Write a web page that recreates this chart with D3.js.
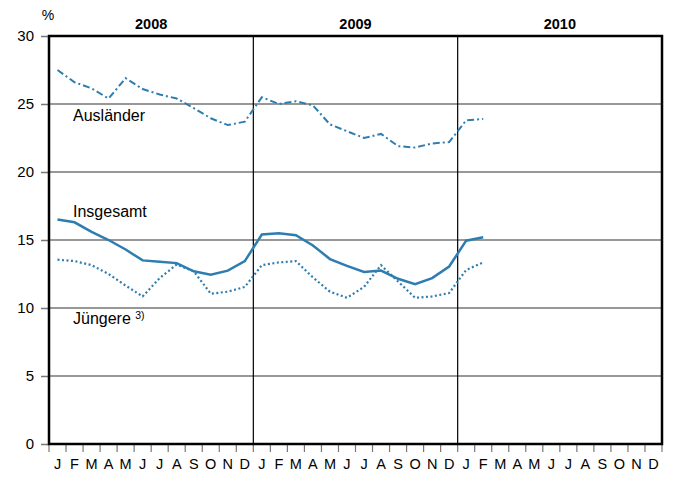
<!DOCTYPE html>
<html>
<head>
<meta charset="utf-8">
<script src="https://cdn.jsdelivr.net/npm/d3@7"></script>
<style>
  body { margin: 0; background: #fff; }
  text { font-family: "Liberation Sans", Arial, sans-serif; fill: #000; }
</style>
</head>
<body>
<svg id="chart" width="676" height="477"></svg>
<script>
var months = ["J","F","M","A","M","J","J","A","S","O","N","D"];
var years = ["2008", "2009", "2010"];
var yTicks = [0, 5, 10, 15, 20, 25, 30];

// Arbeitslosenquote in %, Jan 2008 - Feb 2010
var auslaender = [27.5, 26.6, 26.15, 25.4, 26.9, 26.1, 25.7, 25.4, 24.7, 23.95, 23.45, 23.7,
                  25.5, 25.0, 25.2, 24.9, 23.5, 23.0, 22.5, 22.8, 21.9, 21.8, 22.1, 22.2,
                  23.8, 23.9];
var insgesamt = [16.5, 16.3, 15.6, 15.0, 14.3, 13.5, 13.4, 13.3, 12.7, 12.45, 12.75, 13.45,
                 15.4, 15.5, 15.35, 14.6, 13.6, 13.1, 12.65, 12.75, 12.15, 11.75, 12.2, 13.05,
                 14.95, 15.2];
var juengere = [13.55, 13.45, 13.15, 12.5, 11.65, 10.85, 12.2, 13.2, 12.7, 11.05, 11.2, 11.55,
                13.15, 13.35, 13.45, 12.25, 11.2, 10.75, 11.55, 13.15, 11.95, 10.75, 10.85, 11.1,
                12.8, 13.35];

(function () {
  var svg = d3.select("#chart"),
      left = 49, right = 662, top = 36, bottom = 444,
      blue = "#2e7db0";

  var slots = d3.range(years.length * months.length);
  var x = d3.scaleBand().domain(slots).range([left, right]).padding(0);
  var y = d3.scaleLinear().domain([0, 30]).range([bottom, top]);
  var xc = function (d, i) { return x(i) + x.bandwidth() / 2; };

  // horizontal grid
  svg.append("g").selectAll("line")
    .data(yTicks.filter(function (d) { return d > 0 && d < 30; }))
    .enter().append("line")
      .attr("x1", left).attr("x2", right)
      .attr("y1", function (d) { return y(d); })
      .attr("y2", function (d) { return y(d); })
      .attr("stroke", "#333").attr("stroke-width", 1.2);

  // year dividers
  svg.append("g").selectAll("line")
    .data(years.slice(1))
    .enter().append("line")
      .attr("x1", function (d, i) { return x((i + 1) * 12); })
      .attr("x2", function (d, i) { return x((i + 1) * 12); })
      .attr("y1", top).attr("y2", bottom)
      .attr("stroke", "#000").attr("stroke-width", 1.2);

  // y axis
  var yAxis = svg.append("g")
    .attr("transform", "translate(" + left + ",0)")
    .call(d3.axisLeft(y).tickValues(yTicks).tickSize(8).tickPadding(7));
  yAxis.select(".domain").remove();
  yAxis.selectAll(".tick line").attr("stroke", "#777").attr("stroke-width", 1.5);
  yAxis.selectAll(".tick text")
    .style("font-family", "Liberation Sans, Arial, sans-serif")
    .style("font-size", "15px").attr("fill", "#000");

  // x axis: ticks on month boundaries
  svg.append("g").selectAll("line")
    .data(d3.range(slots.length + 1))
    .enter().append("line")
      .attr("x1", function (d) { return left + d * x.step(); })
      .attr("x2", function (d) { return left + d * x.step(); })
      .attr("y1", bottom).attr("y2", bottom + 8)
      .attr("stroke", "#777").attr("stroke-width", 1.2);

  var xAxis = svg.append("g")
    .attr("transform", "translate(0," + bottom + ")")
    .call(d3.axisBottom(x).tickSize(0).tickPadding(15)
      .tickFormat(function (d) { return months[d % 12]; }));
  xAxis.select(".domain").remove();
  xAxis.selectAll(".tick text")
    .style("font-family", "Liberation Sans, Arial, sans-serif")
    .style("font-size", "14.5px").attr("fill", "#000");

  // frame
  svg.append("rect")
    .attr("x", left).attr("y", top)
    .attr("width", right - left).attr("height", bottom - top)
    .attr("fill", "none").attr("stroke", "#000").attr("stroke-width", 2.5);

  // year labels
  svg.append("g").selectAll("text")
    .data(years)
    .enter().append("text")
      .attr("x", function (d, i) { return x(i * 12) + x.step() * 6; })
      .attr("y", 29)
      .attr("text-anchor", "middle")
      .style("font-size", "14.5px").style("font-weight", "bold")
      .text(function (d) { return d; });

  svg.append("text").attr("x", 48).attr("y", 20)
    .attr("text-anchor", "middle").style("font-size", "14px").text("%");

  // series
  var line = d3.line().x(xc).y(function (d) { return y(d); });

  svg.append("path").datum(auslaender)
    .attr("d", line).attr("fill", "none")
    .attr("stroke", blue).attr("stroke-width", 2)
    .attr("stroke-dasharray", "7,3,2,3");

  svg.append("path").datum(juengere)
    .attr("d", line).attr("fill", "none")
    .attr("stroke", blue).attr("stroke-width", 2.2)
    .attr("stroke-dasharray", "2,2.5");

  svg.append("path").datum(insgesamt)
    .attr("d", line).attr("fill", "none")
    .attr("stroke", blue).attr("stroke-width", 2.5);

  // series labels
  svg.append("text").attr("x", 73).attr("y", 121)
    .style("font-size", "16px").text("Ausländer");
  svg.append("text").attr("x", 73).attr("y", 217)
    .style("font-size", "16px").text("Insgesamt");
  var jt = svg.append("text").attr("x", 73).attr("y", 324)
    .style("font-size", "16px").text("Jüngere ");
  jt.append("tspan").attr("dy", -5).style("font-size", "10.5px").text("3)");
})();
</script>
</body>
</html>
